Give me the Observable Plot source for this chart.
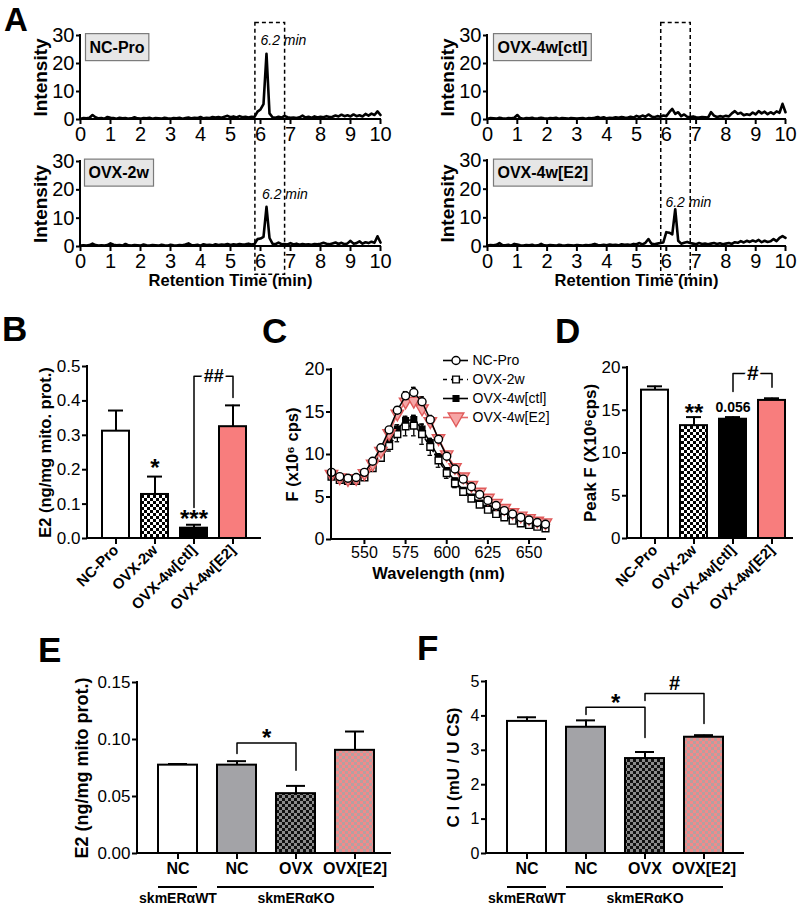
<!DOCTYPE html>
<html><head><meta charset="utf-8">
<script src="https://cdn.jsdelivr.net/npm/d3@7"></script>
<script src="https://cdn.jsdelivr.net/npm/@observablehq/plot@0.6"></script>
<style>
body{margin:0;background:#fff;}
#fig{position:relative;width:800px;height:909px;overflow:hidden;background:#fff;font-family:"Liberation Sans",Arial,Helvetica,sans-serif;}
</style></head><body>
<svg width="0" height="0" style="position:absolute">
<defs>
<pattern id="checkBW" width="6" height="6" patternUnits="userSpaceOnUse"><rect width="6" height="6" fill="#fff"/><rect width="3" height="3" fill="#000"/><rect x="3" y="3" width="3" height="3" fill="#000"/></pattern>
<pattern id="checkDark" width="6" height="6" patternUnits="userSpaceOnUse"><rect width="6" height="6" fill="#8c8c8c"/><rect width="3" height="3" fill="#111"/><rect x="3" y="3" width="3" height="3" fill="#111"/></pattern>
<pattern id="checkPink" width="6" height="6" patternUnits="userSpaceOnUse"><rect width="6" height="6" fill="#f28a8a"/><rect width="3" height="3" fill="#b5a0a0"/><rect x="3" y="3" width="3" height="3" fill="#b5a0a0"/></pattern>
</defs></svg>
<div id="fig"></div>
<script>
// ================= DATA =================
// Panel A: LC chromatograms (retention time, min)
const aTime = [0,0.1,0.2,0.3,0.4,0.5,0.6,0.7,0.8,0.9,1,1.1,1.2,1.3,1.4,1.5,1.6,1.7,1.8,1.9,2,2.1,2.2,2.3,2.4,2.5,2.6,2.7,2.8,2.9,3,3.1,3.2,3.3,3.4,3.5,3.6,3.7,3.8,3.9,4,4.1,4.2,4.3,4.4,4.5,4.6,4.7,4.8,4.9,5,5.1,5.2,5.3,5.4,5.5,5.6,5.7,5.8,5.9,6,6.1,6.2,6.3,6.4,6.5,6.6,6.7,6.8,6.9,7,7.1,7.2,7.3,7.4,7.5,7.6,7.7,7.8,7.9,8,8.1,8.2,8.3,8.4,8.5,8.6,8.7,8.8,8.9,9,9.1,9.2,9.3,9.4,9.5,9.6,9.7,9.8,9.9,10];
const aNCPro = [0.3,0.5,0.4,0.6,1.6,0.8,0.4,0.5,0.3,0.9, 0.6,0.5,0.3,0.6,0.4,0.5,0.3,0.4,0.8,0.4, 0.3,0.5,0.4,0.6,0.3,0.5,0.4,0.3,0.6,0.4, 0.3,0.5,0.4,0.6,0.3,0.5,0.7,0.4,0.6,0.5, 0.9,0.4,0.6,0.5,0.9,0.7,0.9,0.6,1.0,1.3, 0.8,1.1,0.7,1.2,0.8,1.0,0.7,1.0,0.9,2.8, 3.6,5.5,23.5,2.2,0.8,0.6,1.0,0.7,1.3,0.8, 0.6,0.7,0.5,0.8,1.4,0.7,1.0,0.6,1.1,0.7, 1.0,0.8,1.2,0.9,1.0,1.4,1.1,1.7,1.2,1.5, 1.1,1.8,1.2,1.5,1.1,2.0,1.4,2.1,1.6,2.9, 1.6];
const aOVX2w = [0.3,0.4,0.3,0.5,1.0,0.5,0.3,0.4,0.3,0.5, 1.1,0.6,0.4,0.5,0.3,0.9,0.4,0.3,0.5,0.4, 0.3,0.7,0.4,0.3,0.5,0.4,0.3,0.6,0.4,0.3, 0.6,0.4,0.3,0.5,0.4,0.7,1.1,0.5,0.4,0.6, 0.3,0.8,0.5,0.6,0.4,0.8,0.5,0.7,0.6,0.9, 0.5,0.8,0.6,0.9,0.7,0.8,1.0,0.7,0.9,2.6, 2.8,3.4,14.0,3.0,1.0,0.8,1.4,0.8,0.9,0.7, 1.2,0.7,1.0,0.6,0.9,0.7,0.8,0.6,0.9,0.8, 1.0,1.3,1.0,0.8,1.1,1.4,0.9,1.3,0.8,1.1, 2.0,1.0,1.2,1.8,1.0,1.5,1.2,1.7,1.3,3.6, 1.4];
const aOVX4wCtl = [0.3,0.5,0.4,0.3,0.6,0.4,0.3,0.5,0.4,0.6, 1.6,0.5,0.3,0.5,0.4,0.6,0.3,0.4,0.6,0.4, 0.3,0.5,0.4,0.6,0.3,0.5,0.4,0.3,0.5,0.4, 0.3,0.4,0.5,0.3,0.5,0.4,0.6,0.9,0.5,0.8, 0.4,0.6,0.5,0.8,0.6,0.9,0.7,0.6,1.0,0.7, 1.3,0.9,1.4,1.0,1.8,1.1,0.8,1.2,1.0,1.4, 1.2,2.6,3.8,2.0,2.6,1.2,1.8,1.0,0.9,1.1, 0.8,0.7,0.9,0.8,0.7,2.6,1.4,0.9,1.2,1.0, 1.3,1.1,2.2,3.0,2.0,2.4,1.5,1.9,1.6,2.5, 1.8,3.0,2.2,2.8,1.9,2.6,2.0,2.9,2.4,5.6, 2.6];
const aOVX4wE2 = [0.3,0.5,0.4,0.6,1.2,0.5,0.4,0.6,0.3,0.9, 0.7,0.4,0.3,0.5,0.4,0.6,0.3,0.4,0.9,0.4, 0.3,0.5,0.4,0.3,0.6,0.4,0.3,0.5,0.4,0.3, 0.5,0.4,0.3,0.5,0.4,0.6,0.9,0.5,0.4,0.6, 0.4,0.7,0.5,0.6,0.4,0.8,0.6,0.7,0.5,0.9, 0.8,1.2,0.7,1.3,2.6,1.0,0.8,1.0,1.2,1.4, 5.0,4.8,4.2,13.0,2.0,1.0,1.3,1.6,1.2,1.0, 0.8,1.2,0.9,1.0,0.8,1.0,1.2,0.9,1.1,0.8, 1.0,1.2,0.9,1.5,1.3,1.9,1.4,2.0,1.6,2.1, 1.7,2.3,1.5,2.0,1.6,1.8,2.6,1.9,3.0,3.6, 3.0];
const aTicksX = [0,1,2,3,4,5,6,7,8,9,10];
const aTicksY = [0,10,20,30];
const aPeakWindow = [5.83, 6.82];      // dashed window (min)
const aPeakWindowIntensity = [34.5, -10]; // top (upper panel units), bottom (lower panel units)
const aPeakNotes = [ {t: 6.0, v: 28.2}, {t: 6.05, v: 18.4}, null, {t: 5.97, v: 15.5} ];

// Panel B
const bGroups = ["NC-Pro","OVX-2w","OVX-4w[ctl]","OVX-4w[E2]"];
const bE2 = [0.312, 0.128, 0.030, 0.325];
const bSem = [0.060, 0.052, 0.010, 0.062];
const bTicks = [0,0.1,0.2,0.3,0.4,0.5];

// Panel C
const cWavelength = [530,535,540,545,550,555,560,565,570,575,580,585,590,595,600,605,610,615,620,625,630,635,640,645,650,655,660];
const cNCPro   = [7.9,7.4,7.2,7.3,7.9,9.2,10.8,12.9,15.2,16.9,17.3,16.2,14.1,11.8,9.8,8.3,7.1,6.2,5.3,4.6,4.0,3.4,3.0,2.6,2.3,2.0,1.8];
const cOVX2w   = [7.4,7.0,6.9,6.9,7.3,8.4,9.6,11.0,12.4,13.3,13.4,12.4,10.9,9.3,7.8,6.6,5.6,4.8,4.1,3.5,3.0,2.6,2.2,1.9,1.7,1.5,1.3];
const cOVX4wCtl= [7.6,7.2,7.0,7.0,7.5,8.7,10.0,11.5,13.0,14.0,14.1,13.0,11.4,9.7,8.1,6.9,5.8,5.0,4.3,3.7,3.2,2.7,2.3,2.0,1.8,1.6,1.4];
const cOVX4wE2 = [7.7,7.3,7.1,7.2,7.8,8.9,10.4,12.5,14.8,16.2,16.3,15.4,13.9,11.9,10.0,8.5,7.4,6.4,5.6,4.9,4.3,3.7,3.2,2.8,2.5,2.2,2.0];
const cSemNC   = [0.3,0.2,0.2,0.2,0.2,0.2,0.3,0.3,0.4,0.5,0.6,0.6,0.5,0.4,0.3,0.3,0.2,0.2,0.2,0.2,0.2,0.2,0.1,0.1,0.1,0.1,0.1];
const cSem2w   = [0.3,0.3,0.3,0.3,0.3,0.3,0.4,0.6,0.9,1.1,1.2,1.2,1.0,0.8,0.6,0.5,0.4,0.3,0.3,0.3,0.2,0.2,0.2,0.2,0.2,0.2,0.2];
const cSemCtl  = [0.2,0.2,0.2,0.2,0.2,0.2,0.3,0.4,0.5,0.5,0.5,0.5,0.4,0.4,0.3,0.3,0.2,0.2,0.2,0.2,0.2,0.1,0.1,0.1,0.1,0.1,0.1];
const cSemE2   = [0.2,0.2,0.2,0.2,0.2,0.2,0.3,0.3,0.4,0.4,0.4,0.4,0.4,0.3,0.3,0.3,0.2,0.2,0.2,0.2,0.2,0.1,0.1,0.1,0.1,0.1,0.1];
const cTicksX = [550,575,600,625,650];
const cTicksY = [0,5,10,15,20];

// Panel D
const dPeakF = [17.35, 13.2, 13.95, 16.15];
const dSem = [0.45, 1.0, 0.25, 0.25];
const dTicks = [0,5,10,15,20];

// Panels E, F
const efKeys = ["WT-NC","KO-NC","KO-OVX","KO-OVX[E2]"];
const efLabels = ["NC","NC","OVX","OVX[E2]"];
const eE2 = [0.0775, 0.0775, 0.0525, 0.0905];
const eSem = [0.001, 0.0035, 0.0068, 0.0165];
const eTicks = [0,0.05,0.10,0.15];
const fCI = [3.84, 3.67, 2.76, 3.38];
const fSem = [0.12, 0.20, 0.19, 0.06];
const fTicks = [0,1,2,3,4,5];
const efGenotypes = [
  {label: "skmERαWT", from: "WT-NC", to: "WT-NC", center: "WT-NC"},
  {label: "skmERαKO", from: "KO-NC", to: "KO-OVX[E2]", center: "KO-OVX"}
];

// ================= STYLES =================
const barFillsBD = ["#ffffff", "url(#checkBW)", "#000000", "#f87d7d"];
const barFillsEF = ["#ffffff", "#a3a3a7", "url(#checkDark)", "url(#checkPink)"];

// ================= HELPERS =================
const fig = document.getElementById("fig");
const W = 800, H = 909;
const FONT = '"Liberation Sans", Arial, Helvetica, sans-serif';
const frame = (l, t, r, b) => ({width: W, height: H, marginLeft: l, marginTop: t, marginRight: W - r, marginBottom: H - b});
function mount(options) {
  const svg = Plot.plot({...options, style: {fontFamily: FONT, fontSize: "16px", color: "#000", background: "transparent", overflow: "visible"}});
  svg.style.position = "absolute"; svg.style.left = "0px"; svg.style.top = "0px"; svg.style.maxWidth = "none";
  fig.appendChild(svg);
  return svg;
}
function axisFrame(svg, l, t, r, b) {
  const g = d3.select(svg).append("g").attr("stroke", "#000").attr("stroke-width", 2).attr("stroke-linecap", "square");
  g.append("line").attr("x1", l).attr("x2", l).attr("y1", t).attr("y2", b);
  g.append("line").attr("x1", l).attr("x2", r).attr("y1", b).attr("y2", b);
}
function boxLabel(svg, text) {
  d3.select(svg).selectAll("text").filter(function() { return this.textContent === text; }).each(function() {
    const bb = this.getBBox();
    const r = d3.select(this.parentNode).insert("rect", () => this)
      .attr("x", bb.x - 4).attr("y", bb.y - 5).attr("width", bb.width + 8).attr("height", bb.height + 10)
      .attr("fill", "#e6e6e6").attr("stroke", "#7a7a7a").attr("stroke-width", 1.2);
    const tr = this.getAttribute("transform"); if (tr) r.attr("transform", tr);
  });
}
// rotated y-axis title centred on the frame's left side
const yTitle = (label, dx, size) => Plot.text([label], {text: d => d, frameAnchor: "left", textAnchor: "middle", lineAnchor: "middle", dx, rotate: -90, fontWeight: "bold", fontSize: size});

// ================= PANEL A =================
function chromatogram(series, name, box, labelOffset, note, withXLabel) {
  const [l, t, r, b] = box;
  const data = aTime.map((tm, i) => ({t: tm, v: series[i]}));
  const marks = [
    Plot.axisX({ticks: aTicksX, tickSize: 5, tickPadding: 2, fontSize: 20, strokeWidth: 2, label: null}),
    Plot.axisY({ticks: aTicksY, tickSize: 4, tickPadding: 2, fontSize: 20, strokeWidth: 2, label: null}),
    Plot.line(data, {x: "t", y: "v", stroke: "#000", strokeWidth: 2.6, strokeLinejoin: "round"}),
    Plot.text([name], {text: d => d, frameAnchor: "top-left", dx: labelOffset[0], dy: labelOffset[1], textAnchor: "start", lineAnchor: "middle", fontWeight: "bold", fontSize: 16}),
    yTitle("Intensity", -40, 19)
  ];
  if (note) marks.push(Plot.text([note], {x: "t", y: "v", text: () => "6.2 min", textAnchor: "start", fontStyle: "italic", fontSize: 14}));
  if (withXLabel) marks.push(Plot.text(["Retention Time (min)"], {text: d => d, frameAnchor: "bottom", dy: 39, fontWeight: "bold", fontSize: 16.5}));
  const svg = mount({...frame(l, t, r, b), x: {domain: [0, 10]}, y: {domain: [0, 30]}, marks});
  axisFrame(svg, l, t, r, b);
  boxLabel(svg, name);
  return svg;
}
const a1 = chromatogram(aNCPro, "NC-Pro", [80, 35, 380, 119], [9, 12], aPeakNotes[0], false);
const a2 = chromatogram(aOVX2w, "OVX-2w", [80, 161, 380, 246], [8, 11.5], aPeakNotes[1], true);
const a3 = chromatogram(aOVX4wCtl, "OVX-4w[ctl]", [487, 35, 785, 119], [10, 12], aPeakNotes[2], false);
const a4 = chromatogram(aOVX4wE2, "OVX-4w[E2]", [487, 160, 785, 246], [10, 12.5], aPeakNotes[3], true);
function peakWindow(top, bottom) {
  const x = top.scale("x"), yt = top.scale("y"), yb = bottom.scale("y");
  const x0 = x.apply(aPeakWindow[0]), x1 = x.apply(aPeakWindow[1]);
  const y0 = yt.apply(aPeakWindowIntensity[0]), y1 = yb.apply(aPeakWindowIntensity[1]);
  d3.select(bottom).append("rect").attr("x", x0).attr("y", y0).attr("width", x1 - x0).attr("height", y1 - y0)
    .attr("fill", "none").attr("stroke", "#000").attr("stroke-width", 1.5).attr("stroke-dasharray", "4,3");
}
peakWindow(a1, a2);
peakWindow(a3, a4);

// ================= PANELS B & D =================
function groupBars({groups, values, sems, fills, box, range, domain, ticks, fmt, yLabel, yLabelDx, yLabelSize, tickFont, extra}) {
  const [l, t, r, b] = box;
  const table = groups.map((g, i) => ({g, v: values[i], s: sems[i], fill: fills[i]}));
  const marks = [
    Plot.axisY({ticks, tickFormat: fmt, tickSize: 5, tickPadding: 2, fontSize: tickFont, strokeWidth: 2, label: null}),
    Plot.axisX({tickRotate: -45, tickSize: 6, tickPadding: 3, fontSize: 15, fontWeight: "bold", strokeWidth: 2, label: null}),
    Plot.ruleX(table, {x: "g", y1: "v", y2: d => d.v + d.s, strokeWidth: 2}),
    Plot.tickY(table, {x: "g", y: d => d.v + d.s, strokeWidth: 2, insetLeft: 6, insetRight: 6}),
    Plot.barY(table, {x: "g", y: "v", fill: "fill", stroke: "#000", strokeWidth: 2}),
    yTitle(yLabel, yLabelDx, yLabelSize),
    ...extra
  ];
  const svg = mount({...frame(l, t, r, b),
    x: {type: "band", domain: groups, range, paddingInner: 0.32, paddingOuter: 0.16},
    y: {domain}, color: {type: "identity"}, marks});
  axisFrame(svg, l, t, r, b);
  return svg;
}
const bStep = (253.25 - 95.25) / 4;
const bBracket = [{g: "OVX-4w[ctl]", v: 0.09}, {g: "OVX-4w[ctl]", v: 0.472}, {g: "OVX-4w[E2]", v: 0.472}, {g: "OVX-4w[E2]", v: 0.41}];
const bNotes = [{g: "OVX-2w", v: 0.203, label: "*"}, {g: "OVX-4w[ctl]", v: 0.055, label: "***"}];
groupBars({groups: bGroups, values: bE2, sems: bSem, fills: barFillsBD, box: [87, 366, 260, 538], range: [95.25, 253.25],
  domain: [0, 0.5], ticks: bTicks, fmt: d3.format(".1f"), yLabel: "E2 (ng/mg mito. prot.)", yLabelDx: -42, yLabelSize: 16.5, tickFont: 17,
  extra: [
    Plot.line(bBracket, {x: "g", y: "v", stroke: "#000", strokeWidth: 1.5}),
    Plot.text(bNotes, {x: "g", y: "v", text: "label", fontSize: 24, fontWeight: "bold"}),
    Plot.text([{g: "OVX-4w[ctl]", v: 0.472}], {x: "g", y: "v", text: () => "##", dx: bStep / 2, fontSize: 18, fontWeight: "bold", stroke: "#fff", strokeWidth: 5, paintOrder: "stroke", fill: "#000"})
  ]});

const dStep = (792.25 - 634.25) / 4;
const dBracket = [{g: "OVX-4w[ctl]", v: 17.2}, {g: "OVX-4w[ctl]", v: 19.3}, {g: "OVX-4w[E2]", v: 19.3}, {g: "OVX-4w[E2]", v: 17.7}];
groupBars({groups: bGroups, values: dPeakF, sems: dSem, fills: barFillsBD, box: [627, 367, 792, 538], range: [634.25, 792.25],
  domain: [0, 20], ticks: dTicks, fmt: d3.format("d"), yLabel: "Peak F (X10⁶cps)", yLabelDx: -37, yLabelSize: 17, tickFont: 17,
  extra: [
    Plot.line(dBracket, {x: "g", y: "v", stroke: "#000", strokeWidth: 1.5}),
    Plot.text([{g: "OVX-2w", v: 14.6}], {x: "g", y: "v", text: () => "**", fontSize: 24, fontWeight: "bold"}),
    Plot.text([{g: "OVX-4w[ctl]", v: 15.3}], {x: "g", y: "v", text: () => "0.056", fontSize: 14, fontWeight: "bold"}),
    Plot.text([{g: "OVX-4w[ctl]", v: 19.3}], {x: "g", y: "v", text: () => "#", dx: dStep / 2, fontSize: 21, fontWeight: "bold", stroke: "#fff", strokeWidth: 5, paintOrder: "stroke", fill: "#000"})
  ]});

// ================= PANEL C =================
const cSeries = [
  {name: "OVX-4w[ctl]", values: cOVX4wCtl, sem: cSemCtl, stroke: "#000", dash: null, symbol: "square", fill: "#000", dotStroke: "#000", r: 3.2, rotate: 0},
  {name: "OVX-2w", values: cOVX2w, sem: cSem2w, stroke: "#000", dash: "3,3", symbol: "square", fill: "#fff", dotStroke: "#000", r: 3.8, rotate: 0},
  {name: "OVX-4w[E2]", values: cOVX4wE2, sem: cSemE2, stroke: "#e46a6a", dash: null, symbol: "triangle", fill: "#f6a5a5", dotStroke: "#e05a5a", r: 4.6, rotate: 180},
  {name: "NC-Pro", values: cNCPro, sem: cSemNC, stroke: "#000", dash: null, symbol: "circle", fill: "#fff", dotStroke: "#000", r: 4, rotate: 0}
];
const cLegendOrder = ["NC-Pro", "OVX-2w", "OVX-4w[ctl]", "OVX-4w[E2]"];
{
  const marks = [
    Plot.axisX({ticks: cTicksX, tickSize: 5, tickPadding: 2, fontSize: 16, strokeWidth: 2, label: null}),
    Plot.axisY({ticks: cTicksY, tickSize: 5, tickPadding: 2, fontSize: 18, strokeWidth: 2, label: null}),
    yTitle("F (x10⁶ cps)", -39, 16.5),
    Plot.text(["Wavelength (nm)"], {text: d => d, frameAnchor: "bottom", dy: 39, fontWeight: "bold", fontSize: 16.5})
  ];
  for (const s of cSeries) {
    const data = cWavelength.map((w, i) => ({w, v: s.values[i], e: s.sem[i]}));
    const ec = s.name === "OVX-4w[E2]" ? "#e46a6a" : "#000";
    marks.push(Plot.ruleX(data, {x: "w", y1: d => d.v - d.e, y2: d => d.v + d.e, stroke: ec, strokeWidth: 1.3}));
    marks.push(Plot.ruleY(data, {y: d => d.v + d.e, x1: d => d.w - 1.4, x2: d => d.w + 1.4, stroke: ec, strokeWidth: 1.3}));
    marks.push(Plot.ruleY(data, {y: d => d.v - d.e, x1: d => d.w - 1.4, x2: d => d.w + 1.4, stroke: ec, strokeWidth: 1.3}));
  }
  for (const s of cSeries) {
    const data = cWavelength.map((w, i) => ({w, v: s.values[i]}));
    marks.push(Plot.line(data, {x: "w", y: "v", stroke: s.stroke, strokeWidth: 1.5, strokeDasharray: s.dash}));
    marks.push(Plot.dot(data, {x: "w", y: "v", symbol: s.symbol, r: s.r, fill: s.fill, stroke: s.dotStroke, strokeWidth: 1.4, rotate: s.rotate}));
  }
  const svg = mount({...frame(331, 369, 545, 539), x: {domain: [530, 660]}, y: {domain: [0, 20]}, marks});
  axisFrame(svg, 331, 369, 545, 539);

  // legend
  const lm = [];
  for (const name of cLegendOrder) {
    const s = cSeries.find(d => d.name === name);
    lm.push(Plot.ruleY([name], {y: d => d, x1: 0, x2: 1, stroke: s.stroke, strokeWidth: 1.6, strokeDasharray: s.dash ? "4,4" : null}));
    lm.push(Plot.dot([name], {x: 0.5, y: d => d, symbol: s.symbol, r: s.symbol === "triangle" ? 5.8 : s.r, fill: s.fill, stroke: s.dotStroke, strokeWidth: 1.4, rotate: s.rotate}));
    lm.push(Plot.text([name], {x: 1, y: d => d, text: d => d, dx: 4, textAnchor: "start", fontSize: 14}));
  }
  mount({...frame(443, 359, 468, 417.5), x: {domain: [0, 1], axis: null}, y: {type: "point", domain: cLegendOrder, padding: 0, axis: null}, marks: lm});
}

// ================= PANELS E & F =================
function efBars({values, sems, box, range, domain, ticks, fmt, tickFont, yLabel, yLabelDx, yLabelSize, extra}) {
  const [l, t, r, b] = box;
  const table = efKeys.map((k, i) => ({k, v: values[i], s: sems[i], fill: barFillsEF[i]}));
  const marks = [
    Plot.axisY({ticks, tickFormat: fmt, tickSize: 5, tickPadding: 2, fontSize: tickFont, strokeWidth: 2, label: null}),
    Plot.axisX({tickFormat: d => efLabels[efKeys.indexOf(d)], tickSize: 6, tickPadding: 3, fontSize: 16, fontWeight: "bold", strokeWidth: 2, label: null}),
    Plot.ruleX(table, {x: "k", y1: "v", y2: d => d.v + d.s, strokeWidth: 2}),
    Plot.tickY(table, {x: "k", y: d => d.v + d.s, strokeWidth: 2, insetLeft: 10, insetRight: 10}),
    Plot.barY(table, {x: "k", y: "v", fill: "fill", stroke: "#000", strokeWidth: 2}),
    yTitle(yLabel, yLabelDx, yLabelSize),
    Plot.text(efGenotypes, {x: "center", text: "label", frameAnchor: "bottom", dy: 49, fontWeight: "bold", fontSize: 14}),
    ...extra
  ];
  const svg = mount({...frame(l, t, r, b),
    x: {type: "band", domain: efKeys, range, paddingInner: 0.34, paddingOuter: 0.17},
    y: {domain}, color: {type: "identity"}, marks});
  axisFrame(svg, l, t, r, b);
  const x = svg.scale("x");
  const g = d3.select(svg).append("g").attr("stroke", "#000").attr("stroke-width", 2);
  for (const d of efGenotypes) {
    g.append("line").attr("x1", x.apply(d.from)).attr("x2", x.apply(d.to) + x.bandwidth).attr("y1", b + 34).attr("y2", b + 34);
  }
  return svg;
}
const eStep = (384.6 - 147.9) / 4;
const eBracket = [{k: "KO-NC", v: 0.0877}, {k: "KO-NC", v: 0.097}, {k: "KO-OVX", v: 0.097}, {k: "KO-OVX", v: 0.073}];
efBars({values: eE2, sems: eSem, box: [137, 682, 390, 853], range: [147.9, 384.6], domain: [0, 0.15], ticks: eTicks,
  fmt: d3.format(".2f"), tickFont: 17, yLabel: "E2 (ng/mg mito prot.)", yLabelDx: -55, yLabelSize: 18,
  extra: [
    Plot.line(eBracket, {x: "k", y: "v", stroke: "#000", strokeWidth: 1.5}),
    Plot.text([{k: "KO-NC", v: 0.1009}], {x: "k", y: "v", text: () => "*", dx: eStep / 2, fontSize: 24, fontWeight: "bold"})
  ]});
const fStep = (733.7 - 496.3) / 4;
const fBracket1 = [{k: "KO-NC", v: 4.04}, {k: "KO-NC", v: 4.25}, {k: "KO-OVX", v: 4.25}, {k: "KO-OVX", v: 3.37}];
const fBracket2 = [{k: "KO-OVX", v: 4.45}, {k: "KO-OVX", v: 4.65}, {k: "KO-OVX[E2]", v: 4.65}, {k: "KO-OVX[E2]", v: 3.78}];
efBars({values: fCI, sems: fSem, box: [486, 681, 743, 853], range: [496.3, 733.7], domain: [0, 5], ticks: fTicks,
  fmt: d3.format("d"), tickFont: 16, yLabel: "C I (mU / U CS)", yLabelDx: -33, yLabelSize: 17,
  extra: [
    Plot.line(fBracket1, {x: "k", y: "v", stroke: "#000", strokeWidth: 1.5}),
    Plot.line(fBracket2, {x: "k", y: "v", stroke: "#000", strokeWidth: 1.5}),
    Plot.text([{k: "KO-NC", v: 4.36}], {x: "k", y: "v", text: () => "*", dx: fStep / 2, fontSize: 24, fontWeight: "bold"}),
    Plot.text([{k: "KO-OVX", v: 4.94}], {x: "k", y: "v", text: () => "#", dx: fStep / 2, fontSize: 20, fontWeight: "bold"})
  ]});

// ================= PANEL LETTERS =================
const panelLetters = [["A", 4, 31], ["B", 2, 341], ["C", 262, 343], ["D", 555, 343], ["E", 38, 662], ["F", 417, 660]];
const ov = d3.select(fig).append("svg").attr("width", W).attr("height", H)
  .style("position", "absolute").style("left", "0px").style("top", "0px");
ov.selectAll("text").data(panelLetters).join("text")
  .attr("x", d => d[1]).attr("y", d => d[2]).text(d => d[0])
  .attr("font-family", FONT).attr("font-weight", "bold").attr("font-size", d => d[0] === "A" ? 33 : 35);
</script>
</body></html>
